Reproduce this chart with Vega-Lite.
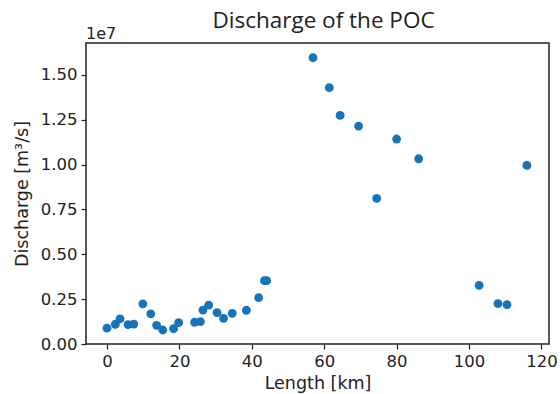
{
  "$schema": "https://vega.github.io/schema/vega-lite/v6.json",
  "width": 463,
  "height": 301,
  "autosize": {"type": "none"},
  "padding": {"left": 86, "top": 43, "right": 11, "bottom": 50},
  "background": "white",
  "title": {
    "text": "Discharge of the POC",
    "font": "Open Sans",
    "fontSize": 22.5,
    "fontWeight": "normal",
    "color": "#222222",
    "baseline": "alphabetic",
    "offset": -24,
    "dx": 6
  },
  "config": {
    "view": {"stroke": "#222222", "strokeWidth": 1.5},
    "axis": {
      "grid": false,
      "domain": false,
      "tickColor": "#222222",
      "tickSize": 5,
      "tickWidth": 1.2,
      "labelFont": "DejaVu Sans",
      "labelFontSize": 16.5,
      "labelColor": "#222222",
      "titleFont": "DejaVu Sans",
      "titleFontSize": 17.5,
      "titleFontWeight": "normal",
      "titleColor": "#222222"
    }
  },
  "data": {
    "values": [
      {"length": 0.0, "discharge": 880000},
      {"length": 2.3, "discharge": 1100000},
      {"length": 3.6, "discharge": 1400000},
      {"length": 5.8, "discharge": 1080000},
      {"length": 7.4, "discharge": 1110000},
      {"length": 9.9, "discharge": 2240000},
      {"length": 12.1, "discharge": 1680000},
      {"length": 13.7, "discharge": 1040000},
      {"length": 15.4, "discharge": 780000},
      {"length": 18.4, "discharge": 850000},
      {"length": 19.8, "discharge": 1190000},
      {"length": 24.2, "discharge": 1210000},
      {"length": 25.8, "discharge": 1250000},
      {"length": 26.5, "discharge": 1890000},
      {"length": 28.1, "discharge": 2170000},
      {"length": 30.4, "discharge": 1750000},
      {"length": 32.2, "discharge": 1430000},
      {"length": 34.6, "discharge": 1710000},
      {"length": 38.5, "discharge": 1880000},
      {"length": 41.9, "discharge": 2580000},
      {"length": 43.5, "discharge": 3530000},
      {"length": 44.1, "discharge": 3530000},
      {"length": 56.9, "discharge": 15950000},
      {"length": 61.4, "discharge": 14280000},
      {"length": 64.4, "discharge": 12740000},
      {"length": 69.5, "discharge": 12140000},
      {"length": 74.5, "discharge": 8110000},
      {"length": 80.0, "discharge": 11420000},
      {"length": 86.1, "discharge": 10320000},
      {"length": 102.8, "discharge": 3270000},
      {"length": 108.0, "discharge": 2250000},
      {"length": 110.5, "discharge": 2190000},
      {"length": 116.0, "discharge": 9950000}
    ]
  },
  "layer": [
    {
      "mark": {"type": "point", "filled": true, "shape": "circle", "size": 78, "color": "#1874b8", "opacity": 1},
      "encoding": {
        "x": {
          "field": "length",
          "type": "quantitative",
          "scale": {"domain": [-5.8, 122.1], "nice": false, "zero": false},
          "axis": {"values": [0, 20, 40, 60, 80, 100, 120], "title": "Length [km]", "titlePadding": 5, "labelPadding": 4}
        },
        "y": {
          "field": "discharge",
          "type": "quantitative",
          "scale": {"domain": [0, 16770000], "nice": false, "zero": false},
          "axis": {
            "values": [0, 2500000, 5000000, 7500000, 10000000, 12500000, 15000000],
            "labelExpr": "format(datum.value / 10000000, '.2f')",
            "title": "Discharge [m³/s]",
            "titlePadding": 9,
            "labelPadding": 4
          }
        }
      }
    },
    {
      "data": {"values": [{"label": "1e7", "x": -5.8, "y": 16770000}]},
      "mark": {"type": "text", "align": "left", "baseline": "alphabetic", "dy": -4, "font": "DejaVu Sans", "fontSize": 16, "color": "#222222"},
      "encoding": {
        "x": {"field": "x", "type": "quantitative"},
        "y": {"field": "y", "type": "quantitative"},
        "text": {"field": "label"}
      }
    }
  ]
}
